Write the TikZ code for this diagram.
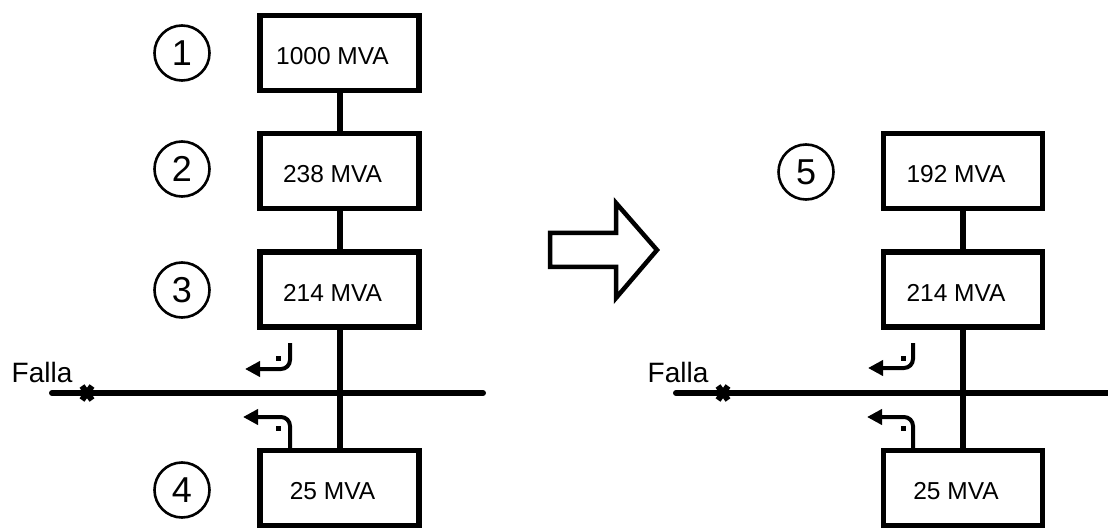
\documentclass[tikz,border=0pt]{standalone}
\usepackage{fontspec}
\setmainfont{Liberation Sans}
\usetikzlibrary{positioning,arrows.meta}

\begin{document}
\begin{tikzpicture}[x=1pt,y=-1pt,
    caja/.style={draw, line width=5.5pt, minimum width=159pt, minimum height=75pt,
                 inner sep=0pt, text height=23.5pt, text depth=0pt,
                 execute at end node=\hspace*{14pt},
                 font=\fontsize{24.5}{28}\selectfont},
    numero/.style={draw, circle, line width=2.6pt, minimum size=55pt, inner sep=0pt,
                   font=\fontsize{36}{40}\selectfont},
    enlace/.style={line width=6pt},
    barra/.style={line width=6pt, line cap=round},
    flujo/.style={line width=4pt, rounded corners=9pt, -{Triangle[length=15pt,width=15pt]}},
    punto/.style={fill, inner sep=0pt, minimum size=5pt},
    falla/.style={font=\fontsize{28}{32}\selectfont}]
  \useasboundingbox (0,0) rectangle (1108,529);

  % left network
  \node[caja] (b1) at (339.5,53) {1000 MVA};
  \node[caja] (b2) at (339.5,171) {238 MVA};
  \node[caja] (b3) at (339.5,289.5) {214 MVA};
  \node[caja] (b4) at (339.5,488) {25 MVA};
  \node[numero] (n1) at (182,53) {1};
  \node[numero] (n2) at (182,169) {2};
  \node[numero] (n3) at (182,290) {3};
  \node[numero] (n4) at (182,490) {4};
  \draw[enlace] (b1) -- (b2);
  \draw[enlace] (b2) -- (b3);
  \draw[enlace] (b3) -- (b4);
  \coordinate (busL) at (52,393);
  \coordinate (busLe) at (483,393);
  \draw[barra] (busL) -- (busLe);
  \node[falla] (fL) at (42,372) {Falla};
  \coordinate (xL) at (87,393);
  \draw[line width=6pt] ([shift={(-5,-7)}]xL) -- ([shift={(5,7)}]xL)
                        ([shift={(-5,7)}]xL) -- ([shift={(5,-7)}]xL);
  \coordinate (iL1) at (290,343);
  \coordinate (tL1) at (245,369);
  \draw[flujo] (iL1) |- (tL1);
  \node[punto] (pL1) at (278,358) {};
  \coordinate (iL2) at (290,449);
  \coordinate (tL2) at (243,417);
  \draw[flujo] (iL2) |- (tL2);
  \node[punto] (pL2) at (278,428) {};

  % equivalent arrow
  \draw[line width=4.5pt, line join=miter]
    (550,233) -- (616,233) -- (616,203) -- (657,250) -- (616,298) -- (616,267) -- (550,267) -- cycle;

  % right network
  \node[caja] (r5) at (963,171) {192 MVA};
  \node[caja] (r3) at (963,289.5) {214 MVA};
  \node[caja] (r4) at (963,488) {25 MVA};
  \node[numero] (n5) at (806,172) {5};
  \draw[enlace] (r5) -- (r3);
  \draw[enlace] (r3) -- (r4);
  \coordinate (busR) at (676,393);
  \coordinate (busRe) at (1112,393);
  \draw[barra] (busR) -- (busRe);
  \node[falla] (fR) at (678,372) {Falla};
  \coordinate (xR) at (723,393);
  \draw[line width=6pt] ([shift={(-5,-7)}]xR) -- ([shift={(5,7)}]xR)
                        ([shift={(-5,7)}]xR) -- ([shift={(5,-7)}]xR);
  \coordinate (iR1) at (913,343);
  \coordinate (tR1) at (868,368);
  \draw[flujo] (iR1) |- (tR1);
  \node[punto] (pR1) at (903,358) {};
  \coordinate (iR2) at (913,449);
  \coordinate (tR2) at (867,417);
  \draw[flujo] (iR2) |- (tR2);
  \node[punto] (pR2) at (903,428) {};
\end{tikzpicture}
\end{document}
